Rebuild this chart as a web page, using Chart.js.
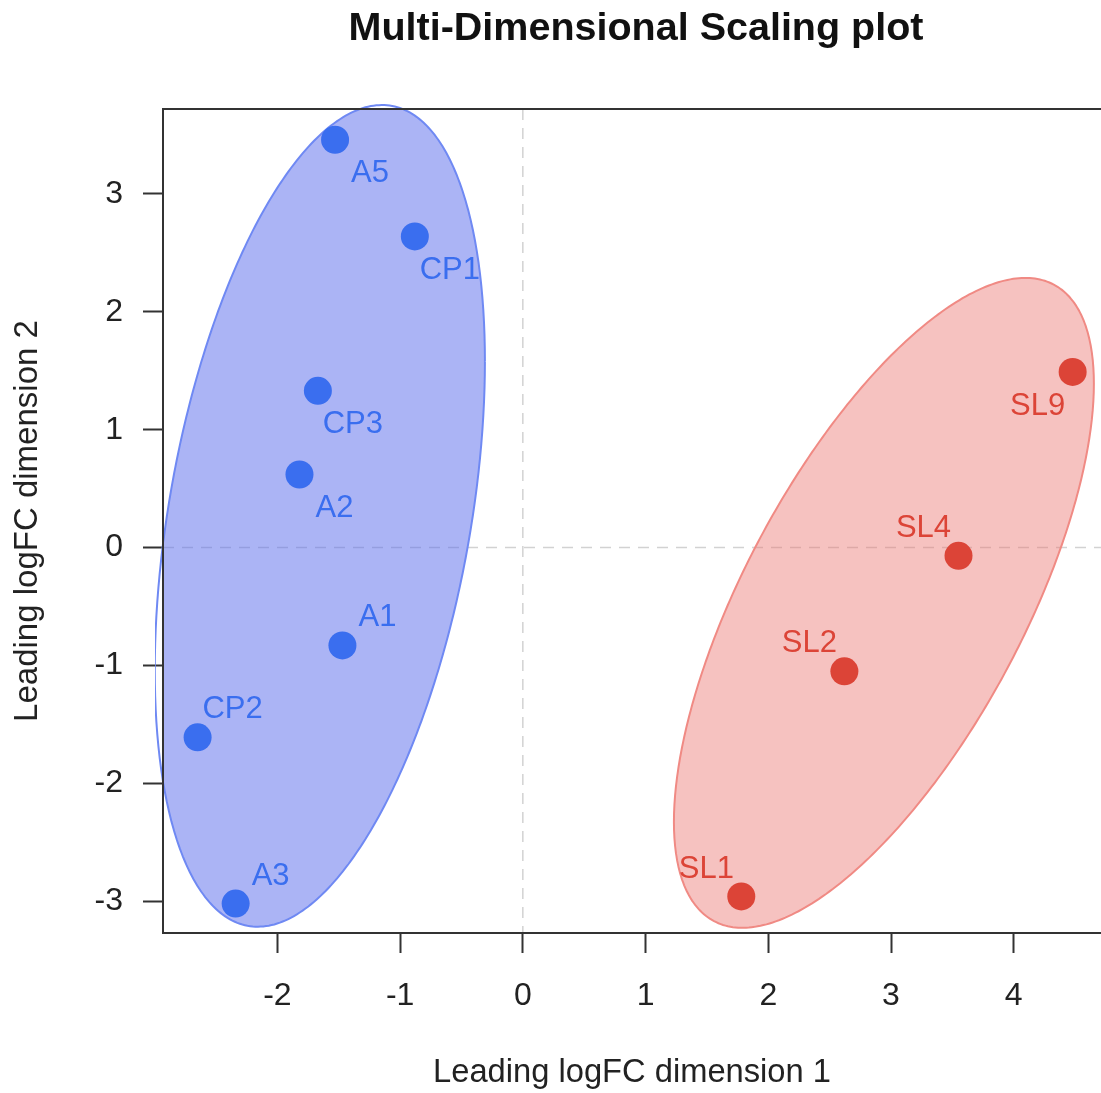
<!DOCTYPE html>
<html>
<head>
<meta charset="utf-8">
<script src="https://cdn.jsdelivr.net/npm/chart.js@4.4.1/dist/chart.umd.min.js"></script>
<style>
  html, body { margin: 0; padding: 0; background: #fff; }
</style>
</head>
<body>
<canvas id="mds" width="1101" height="1093"></canvas>
<script>
// sample coordinates (leading logFC dimensions)
const blueNames = ["A5", "CP1", "CP3", "A2", "A1", "CP2", "A3"];
const blueX = [-1.53, -0.88, -1.67, -1.82, -1.47, -2.65, -2.34];
const blueY = [3.46, 2.64, 1.33, 0.62, -0.83, -1.61, -3.02];

const redNames = ["SL9", "SL4", "SL2", "SL1"];
const redX = [4.48, 3.55, 2.62, 1.78];
const redY = [1.49, -0.07, -1.05, -2.96];

// group ellipses: centre x, centre y, sd x, sd y, correlation
const blueEllipse = [-1.654, 0.269, 1.345, 3.486, 0.376];
const redEllipse = [2.942, -0.469, 1.711, 2.757, 0.674];

const xTicks = [-2, -1, 0, 1, 2, 3, 4];
const yTicks = [-3, -2, -1, 0, 1, 2, 3];
const xRange = [-2.932, 4.711];
const yRange = [-3.27, 3.721];

const TITLE = "Multi-Dimensional Scaling plot";
const FONT = "'Liberation Sans', Arial, Helvetica, sans-serif";
const BLUE = "#3a6eef";
const RED = "#dc4437";

// label placement per point: [dx sign, below(1) / above(-1)]
const blueLabelSide = [[1, 1], [1, 1], [1, 1], [1, 1], [1, -1], [1, -1], [1, -1]];
const redLabelSide = [[-1, 1], [-1, -1], [-1, -1], [-1, -1]];

function ellipsePoints(e) {
    const [cx, cy, sx, sy, rho] = e;
    const pts = [];
    for (let i = 0; i <= 180; i++) {
        const t = (i / 180) * 2 * Math.PI;
        pts.push({
            x: cx + sx * Math.cos(t),
            y: cy + sy * (rho * Math.cos(t) + Math.sqrt(1 - rho * rho) * Math.sin(t))
        });
    }
    return pts;
}

const toPoints = (xs, ys) => xs.map((x, i) => ({ x: x, y: ys[i] }));

// dashed zero lines under the marks
const zeroLines = {
    id: "zeroLines",
    beforeDatasetsDraw(chart) {
        const { ctx, chartArea: a, scales } = chart;
        const x0 = scales.x.getPixelForValue(0);
        const y0 = scales.y.getPixelForValue(0);
        ctx.save();
        ctx.strokeStyle = "#d2d2d2";
        ctx.lineWidth = 1.5;
        ctx.setLineDash([11, 8]);
        ctx.beginPath();
        ctx.moveTo(x0, a.top); ctx.lineTo(x0, a.bottom);
        ctx.moveTo(a.left, y0); ctx.lineTo(a.right, y0);
        ctx.stroke();
        ctx.restore();
    }
};

// sample names, plot frame and title
const labelsAndFrame = {
    id: "labelsAndFrame",
    afterDatasetsDraw(chart) {
        const { ctx, chartArea: a } = chart;
        ctx.save();
        ctx.font = "31px " + FONT;
        ctx.textAlign = "center";
        ctx.textBaseline = "middle";
        [[0, blueNames, blueLabelSide, BLUE], [1, redNames, redLabelSide, RED]].forEach(([di, names, side, col]) => {
            const meta = chart.getDatasetMeta(di);
            ctx.fillStyle = col;
            meta.data.forEach((pt, i) => {
                const dy = side[i][1] > 0 ? 34 : -27.5;
                ctx.fillText(names[i], pt.x + side[i][0] * 35, pt.y + dy);
            });
        });
        ctx.strokeStyle = "#333";
        ctx.lineWidth = 2;
        ctx.strokeRect(a.left, a.top, a.right - a.left + 4, a.bottom - a.top);

        ctx.fillStyle = "#111";
        ctx.font = "bold 39.5px " + FONT;
        ctx.fillText(TITLE, (a.left + a.right) / 2 + 4, 29);
        ctx.restore();
    }
};

new Chart(document.getElementById("mds"), {
    type: "scatter",
    data: {
        datasets: [
            { data: toPoints(blueX, blueY), backgroundColor: BLUE, pointRadius: 14, pointBorderWidth: 0, order: 0 },
            { data: toPoints(redX, redY), backgroundColor: RED, pointRadius: 14, pointBorderWidth: 0, order: 0 },
            {
                data: ellipsePoints(blueEllipse), showLine: true, pointRadius: 0, tension: 0.001, clip: 8,
                borderColor: "#6f89f3", borderWidth: 2, backgroundColor: "rgba(94,112,236,0.52)",
                fill: "shape", order: 1
            },
            {
                data: ellipsePoints(redEllipse), showLine: true, pointRadius: 0, tension: 0.001, clip: 8,
                borderColor: "#f08a84", borderWidth: 2, backgroundColor: "rgba(234,120,116,0.45)",
                fill: "shape", order: 1
            }
        ]
    },
    options: {
        responsive: false,
        animation: false,
        layout: { autoPadding: false, padding: { top: 109, right: 0, left: 0, bottom: 0 } },
        plugins: {
            legend: { display: false },
            tooltip: { enabled: false },
            title: { display: false }
        },
        scales: {
            x: {
                type: "linear",
                min: xRange[0], max: xRange[1],
                afterBuildTicks: s => { s.ticks = xTicks.map(v => ({ value: v })); },
                afterFit: s => { s.height = 160; s.paddingLeft = 0; s.paddingRight = 0; },
                grid: { drawOnChartArea: false, drawTicks: true, tickLength: 20, tickColor: "#333", tickWidth: 2 },
                border: { display: false },
                ticks: { color: "#222", padding: 24, font: { family: FONT, size: 32 } },
                title: {
                    display: true, text: "Leading logFC dimension 1", color: "#222",
                    font: { family: FONT, size: 32.7 }, padding: { top: 0, bottom: 0 }
                }
            },
            y: {
                type: "linear",
                min: yRange[0], max: yRange[1],
                afterBuildTicks: s => { s.ticks = yTicks.map(v => ({ value: v })); },
                afterFit: s => { s.width = 163; s.paddingTop = 0; s.paddingBottom = 0; },
                grid: { drawOnChartArea: false, drawTicks: true, tickLength: 20, tickColor: "#333", tickWidth: 2 },
                border: { display: false },
                ticks: { color: "#222", padding: 20, font: { family: FONT, size: 32 } },
                title: {
                    display: true, text: "Leading logFC dimension 2", color: "#222",
                    font: { family: FONT, size: 33 }, padding: { top: 8, bottom: 0 }
                }
            }
        }
    },
    plugins: [zeroLines, labelsAndFrame]
});
</script>
</body>
</html>
